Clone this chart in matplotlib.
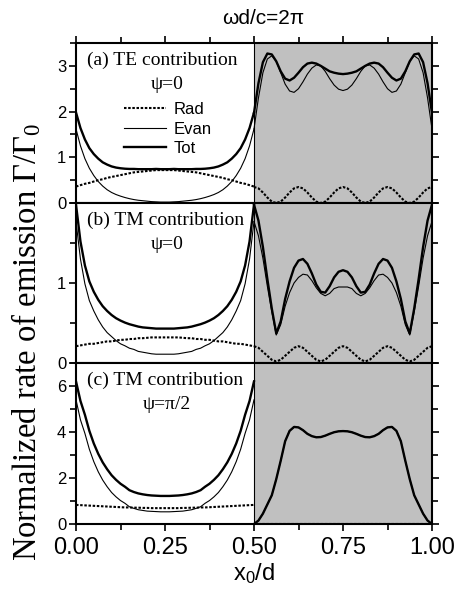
import numpy as np
import matplotlib.pyplot as plt
from matplotlib.ticker import MultipleLocator

# --------------------------------------------------
# Data read off the figure (x0/d sampled every 0.0125)
# --------------------------------------------------

x_left = [0.0, 0.0125, 0.025, 0.0375, 0.05, 0.0625, 0.075, 0.0875, 0.1, 0.1125,
          0.125, 0.1375, 0.15, 0.1625, 0.175, 0.1875, 0.2, 0.2125, 0.225, 0.2375,
          0.25, 0.2625, 0.275, 0.2875, 0.3, 0.3125, 0.325, 0.3375, 0.35, 0.3625,
          0.375, 0.3875, 0.4, 0.4125, 0.425, 0.4375, 0.45, 0.4625, 0.475, 0.4875, 0.5]
x_right = [0.5, 0.5125, 0.525, 0.5375, 0.55, 0.5625, 0.575, 0.5875, 0.6, 0.6125,
           0.625, 0.6375, 0.65, 0.6625, 0.675, 0.6875, 0.7, 0.7125, 0.725, 0.7375,
           0.75, 0.7625, 0.775, 0.7875, 0.8, 0.8125, 0.825, 0.8375, 0.85, 0.8625,
           0.875, 0.8875, 0.9, 0.9125, 0.925, 0.9375, 0.95, 0.9625, 0.975, 0.9875, 1.0]

x_ticks = [0.0, 0.25, 0.5, 0.75, 1.0]
x_ticklabels = ["0.00", "0.25", "0.50", "0.75", "1.00"]

# (a) TE contribution, psi = 0
rad_a_left = [0.36, 0.39, 0.42, 0.44, 0.47, 0.50, 0.52, 0.55, 0.57, 0.59,
              0.61, 0.63, 0.65, 0.67, 0.68, 0.69, 0.70, 0.71, 0.72, 0.72,
              0.72, 0.72, 0.72, 0.71, 0.70, 0.69, 0.68, 0.67, 0.65, 0.63,
              0.61, 0.59, 0.57, 0.55, 0.52, 0.50, 0.47, 0.44, 0.42, 0.39, 0.36]
evan_a_left = [1.62, 1.25, 0.97, 0.76, 0.60, 0.47, 0.37, 0.29, 0.23, 0.185,
               0.15, 0.12, 0.095, 0.075, 0.06, 0.05, 0.04, 0.03, 0.025, 0.02,
               0.02, 0.02, 0.025, 0.03, 0.04, 0.05, 0.06, 0.075, 0.095, 0.12,
               0.15, 0.185, 0.23, 0.29, 0.37, 0.47, 0.60, 0.76, 0.97, 1.25, 1.62]
tot_a_left = [1.98, 1.64, 1.39, 1.20, 1.07, 0.97, 0.89, 0.84, 0.80, 0.775,
              0.76, 0.75, 0.745, 0.745, 0.74, 0.74, 0.74, 0.74, 0.745, 0.74,
              0.74, 0.74, 0.745, 0.74, 0.74, 0.74, 0.74, 0.745, 0.745, 0.75,
              0.76, 0.775, 0.80, 0.84, 0.89, 0.97, 1.07, 1.20, 1.39, 1.64, 1.98]
rad_a_right = [0.35, 0.32, 0.23, 0.12, 0.03, 0.0, 0.03, 0.12, 0.23, 0.32,
               0.35, 0.32, 0.23, 0.12, 0.03, 0.0, 0.03, 0.12, 0.23, 0.32,
               0.35, 0.32, 0.23, 0.12, 0.03, 0.0, 0.03, 0.12, 0.23, 0.32,
               0.35, 0.32, 0.23, 0.12, 0.03, 0.0, 0.03, 0.12, 0.23, 0.32, 0.35]
evan_a_right = [1.62, 2.30, 2.85, 3.15, 3.22, 3.10, 2.85, 2.60, 2.45, 2.42,
                2.50, 2.65, 2.82, 2.95, 3.02, 3.00, 2.88, 2.72, 2.58, 2.49,
                2.46, 2.49, 2.58, 2.72, 2.88, 3.00, 3.02, 2.95, 2.82, 2.65,
                2.50, 2.42, 2.45, 2.60, 2.85, 3.10, 3.22, 3.15, 2.85, 2.30, 1.62]
tot_a_right = [1.97, 2.62, 3.08, 3.27, 3.25, 3.10, 2.88, 2.72, 2.68, 2.74,
               2.85, 2.97, 3.05, 3.07, 3.05, 3.00, 2.94, 2.88, 2.85, 2.83,
               2.82, 2.83, 2.85, 2.88, 2.94, 3.00, 3.05, 3.07, 3.05, 2.97,
               2.85, 2.74, 2.68, 2.72, 2.88, 3.10, 3.25, 3.27, 3.08, 2.62, 1.97]

# (b) TM contribution, psi = 0
rad_b_left = [0.21, 0.22, 0.23, 0.24, 0.24, 0.25, 0.26, 0.27, 0.27, 0.28,
              0.29, 0.29, 0.30, 0.30, 0.31, 0.31, 0.315, 0.32, 0.32, 0.32,
              0.32, 0.32, 0.32, 0.32, 0.315, 0.31, 0.31, 0.30, 0.30, 0.29,
              0.29, 0.28, 0.27, 0.27, 0.26, 0.25, 0.24, 0.24, 0.23, 0.22, 0.21]
evan_b_left = [1.77, 1.30, 0.99, 0.78, 0.65, 0.54, 0.45, 0.38, 0.33, 0.28,
               0.24, 0.215, 0.185, 0.17, 0.145, 0.135, 0.125, 0.115, 0.11, 0.11,
               0.11, 0.11, 0.11, 0.115, 0.125, 0.135, 0.145, 0.17, 0.185, 0.215,
               0.24, 0.28, 0.33, 0.38, 0.45, 0.54, 0.65, 0.78, 0.99, 1.30, 1.77]
tot_b_left = [1.98, 1.52, 1.22, 1.02, 0.89, 0.79, 0.71, 0.65, 0.60, 0.56,
              0.53, 0.505, 0.485, 0.47, 0.455, 0.445, 0.44, 0.435, 0.43, 0.43,
              0.43, 0.43, 0.43, 0.435, 0.44, 0.445, 0.455, 0.47, 0.485, 0.505,
              0.53, 0.56, 0.60, 0.65, 0.71, 0.79, 0.89, 1.02, 1.22, 1.52, 1.98]
rad_b_right = [0.21, 0.19, 0.14, 0.09, 0.04, 0.02, 0.04, 0.09, 0.14, 0.19,
               0.21, 0.19, 0.14, 0.09, 0.04, 0.02, 0.04, 0.09, 0.14, 0.19,
               0.21, 0.19, 0.14, 0.09, 0.04, 0.02, 0.04, 0.09, 0.14, 0.19,
               0.21, 0.19, 0.14, 0.09, 0.04, 0.02, 0.04, 0.09, 0.14, 0.19, 0.21]
evan_b_right = [1.77, 1.59, 1.31, 0.96, 0.64, 0.35, 0.48, 0.71, 0.88, 1.00,
                1.07, 1.11, 1.10, 1.03, 0.94, 0.87, 0.84, 0.87, 0.93, 0.95,
                0.95, 0.95, 0.93, 0.87, 0.84, 0.87, 0.94, 1.03, 1.10, 1.11,
                1.07, 1.00, 0.88, 0.71, 0.48, 0.35, 0.64, 0.96, 1.31, 1.59, 1.77]
tot_b_right = [1.98, 1.78, 1.45, 1.05, 0.68, 0.37, 0.52, 0.80, 1.02, 1.19,
               1.28, 1.30, 1.24, 1.12, 0.98, 0.89, 0.88, 0.96, 1.07, 1.14,
               1.16, 1.14, 1.07, 0.96, 0.88, 0.89, 0.98, 1.12, 1.24, 1.30,
               1.28, 1.19, 1.02, 0.80, 0.52, 0.37, 0.68, 1.05, 1.45, 1.78, 1.98]

# (c) TM contribution, psi = pi/2
rad_c_left = [0.83, 0.82, 0.81, 0.80, 0.79, 0.78, 0.77, 0.76, 0.75, 0.74,
              0.73, 0.72, 0.72, 0.71, 0.71, 0.70, 0.70, 0.69, 0.69, 0.69,
              0.69, 0.69, 0.69, 0.69, 0.70, 0.70, 0.71, 0.71, 0.72, 0.72,
              0.73, 0.74, 0.75, 0.76, 0.77, 0.78, 0.79, 0.80, 0.81, 0.82, 0.83]
evan_c_left = [5.40, 4.53, 3.94, 3.25, 2.71, 2.27, 1.91, 1.62, 1.37, 1.18,
               1.02, 0.90, 0.75, 0.68, 0.62, 0.59, 0.56, 0.55, 0.54, 0.53,
               0.53, 0.53, 0.54, 0.55, 0.56, 0.59, 0.62, 0.68, 0.75, 0.90,
               1.02, 1.18, 1.37, 1.62, 1.91, 2.27, 2.71, 3.25, 3.94, 4.53, 5.40]
tot_c_left = [6.20, 5.35, 4.75, 4.05, 3.50, 3.05, 2.68, 2.38, 2.12, 1.92,
              1.75, 1.62, 1.47, 1.39, 1.33, 1.29, 1.26, 1.24, 1.23, 1.22,
              1.22, 1.22, 1.23, 1.24, 1.26, 1.29, 1.33, 1.39, 1.47, 1.62,
              1.75, 1.92, 2.12, 2.38, 2.68, 3.05, 3.50, 4.05, 4.75, 5.35, 6.20]
rad_c_right = [0.0] * 41
tot_c_right = [0.0, 0.15, 0.45, 0.85, 1.25, 1.95, 2.75, 3.60, 4.05, 4.22,
               4.20, 4.08, 3.92, 3.82, 3.77, 3.78, 3.84, 3.92, 3.99, 4.03,
               4.04, 4.03, 3.99, 3.92, 3.84, 3.78, 3.77, 3.82, 3.92, 4.08,
               4.20, 4.22, 4.05, 3.60, 2.75, 1.95, 1.25, 0.85, 0.45, 0.15, 0.0]
evan_c_right = tot_c_right

panels = [
    ("(a) TE contribution", "\u03c8=0", 3.5, [0, 1, 2, 3], 0.5,
     (rad_a_left, evan_a_left, tot_a_left), (rad_a_right, evan_a_right, tot_a_right)),
    ("(b) TM contribution", "\u03c8=0", 2.0, [0, 1], 0.5,
     (rad_b_left, evan_b_left, tot_b_left), (rad_b_right, evan_b_right, tot_b_right)),
    ("(c) TM contribution", "\u03c8=\u03c0/2", 7.0, [0, 2, 4, 6], 1.0,
     (rad_c_left, evan_c_left, tot_c_left), (rad_c_right, evan_c_right, tot_c_right)),
]

plt.rcParams["font.family"] = ["Liberation Sans", "DejaVu Sans"]
plt.rcParams["mathtext.fontset"] = "custom"
plt.rcParams["mathtext.rm"] = "Liberation Serif"
plt.rcParams["mathtext.it"] = "Liberation Serif:italic"

fig = plt.figure(figsize=(4.58, 5.99), dpi=100)

left, width = 76 / 458, 356 / 458
tops = [43, 203, 363]
bots = [203, 363, 524]

styles = {
    "Rad": dict(color="black", lw=1.5, ls=(0, (1.2, 0.8))),
    "Evan": dict(color="black", lw=0.8, ls="-"),
    "Tot": dict(color="black", lw=1.7, ls="-"),
}

axes = []
for k, (title, psi, ymax, yt, ymin_step, lcurves, rcurves) in enumerate(panels):
    ax = fig.add_axes([left, 1 - bots[k] / 599, width, (bots[k] - tops[k]) / 599])
    axes.append(ax)

    ax.axvspan(0.5, 1.0, color="#c0c0c0", lw=0, zorder=0)
    ax.axvline(0.5, color="black", lw=0.8, zorder=1)

    for name, yl, yr in zip(["Rad", "Evan", "Tot"], lcurves, rcurves):
        ax.plot(x_left, yl, label=name, **styles[name])
        ax.plot(x_right, yr, **styles[name])

    ax.set_xlim(0, 1)
    ax.set_ylim(0, ymax)
    ax.set_yticks(yt)
    ax.yaxis.set_minor_locator(MultipleLocator(ymin_step))
    ax.set_xticks(x_ticks)
    ax.xaxis.set_minor_locator(MultipleLocator(0.125))

    ax.tick_params(which="both", direction="out", right=True, top=(k == 0),
                   width=1.2, labelsize=12, pad=2)
    ax.tick_params(which="major", length=5)
    ax.tick_params(which="minor", length=4)
    for s in ax.spines.values():
        s.set_linewidth(1.5)

    if k < 2:
        ax.tick_params(labelbottom=False)

    ax.text(0.03, 0.89, title, transform=ax.transAxes, fontsize=14,
            family="Liberation Serif", ha="left", va="center")
    ax.text(0.255, 0.74, psi, transform=ax.transAxes, fontsize=14,
            family="Liberation Serif", ha="center", va="center")

axes[2].tick_params(axis="x", labelsize=17, pad=4)
axes[2].set_xticklabels(x_ticklabels)
axes[2].set_xlabel(r"x$_\mathregular{0}$/d", fontsize=17, labelpad=2)

axes[0].legend(loc="upper left", bbox_to_anchor=(0.135, 0.63), frameon=False,
               fontsize=12, handlelength=2.5, handletextpad=0.45,
               labelspacing=0.27, borderpad=0, borderaxespad=0)

fig.text(263 / 458, 1 - 18 / 599, "\u03c9d/c=2\u03c0", fontsize=15,
         ha="center", va="center")
fig.text(26 / 458, 1 - 342 / 599,
         r"Normalized rate of emission $\Gamma/\Gamma_0$",
         rotation=90, fontsize=23.5, family="Liberation Serif",
         ha="center", va="center")

fig.savefig("out.png", dpi=100)
